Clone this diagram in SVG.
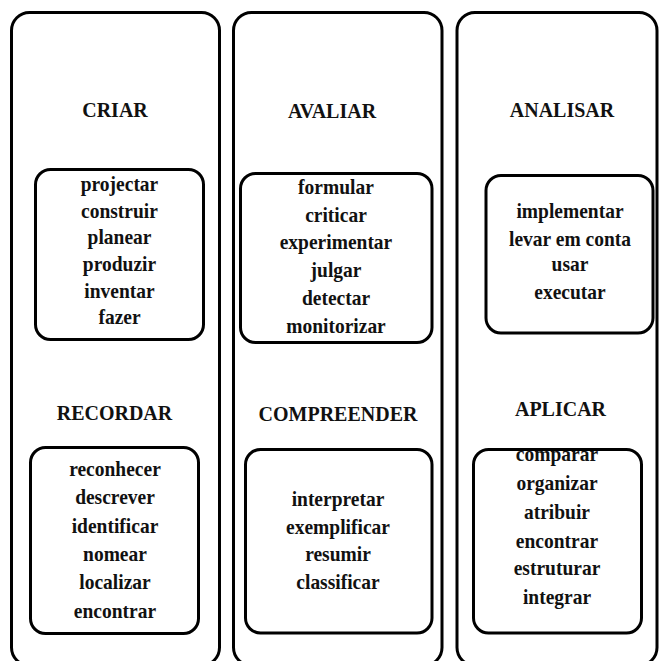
<svg xmlns="http://www.w3.org/2000/svg" width="659" height="661" viewBox="0 0 659 661">
<style>
.col{fill:none;stroke:#000;stroke-width:3}
.box{fill:none;stroke:#000;stroke-width:3}
.t,.w{font-family:"Liberation Serif","Times New Roman",serif;font-weight:bold;fill:#111;text-anchor:middle;transform-box:fill-box;transform-origin:center;transform:scaleY(1.1)}
.t{font-size:20px}
.w{font-size:19.5px}
</style>
<rect width="659" height="661" fill="#fff"/>
<g id="col-criar-recordar">
<rect class="col" x="11.5" y="12.5" width="208" height="653" rx="18"/>
</g>
<g id="col-avaliar-compreender">
<rect class="col" x="233.5" y="12.5" width="208.5" height="653" rx="18"/>
</g>
<g id="col-analisar-aplicar">
<rect class="col" x="457" y="12.5" width="200" height="653" rx="18"/>
</g>
<g id="criar">
<text class="t" x="115" y="116">CRIAR</text>
<rect class="box" x="35.5" y="169.5" width="168" height="170" rx="15"/>
<text class="w" x="119.5" y="190">projectar</text>
<text class="w" x="119.5" y="217">construir</text>
<text class="w" x="119.5" y="243">planear</text>
<text class="w" x="119.5" y="270">produzir</text>
<text class="w" x="119.5" y="297">inventar</text>
<text class="w" x="119.5" y="323">fazer</text>
</g>
<g id="avaliar">
<text class="t" x="332" y="117">AVALIAR</text>
<rect class="box" x="240.5" y="173.5" width="191.5" height="169" rx="15"/>
<text class="w" x="336" y="193">formular</text>
<text class="w" x="336" y="221">criticar</text>
<text class="w" x="336" y="248">experimentar</text>
<text class="w" x="336" y="276">julgar</text>
<text class="w" x="336" y="304">detectar</text>
<text class="w" x="336" y="332">monitorizar</text>
</g>
<g id="analisar">
<text class="t" x="562" y="116.5">ANALISAR</text>
<rect class="box" x="486" y="175.5" width="167" height="157.5" rx="15"/>
<text class="w" x="570" y="217">implementar</text>
<text class="w" x="570" y="245">levar em conta</text>
<text class="w" x="570" y="270">usar</text>
<text class="w" x="570" y="298">executar</text>
</g>
<g id="recordar">
<text class="t" x="114.5" y="419">RECORDAR</text>
<rect class="box" x="30.5" y="447.5" width="168" height="186" rx="15"/>
<text class="w" x="115" y="475">reconhecer</text>
<text class="w" x="115" y="503">descrever</text>
<text class="w" x="115" y="532">identificar</text>
<text class="w" x="115" y="560">nomear</text>
<text class="w" x="115" y="588">localizar</text>
<text class="w" x="115" y="617">encontrar</text>
</g>
<g id="compreender">
<text class="t" x="338" y="420.5">COMPREENDER</text>
<rect class="box" x="245.5" y="449.5" width="186.5" height="183.5" rx="15"/>
<text class="w" x="338" y="505">interpretar</text>
<text class="w" x="338" y="533">exemplificar</text>
<text class="w" x="338" y="560">resumir</text>
<text class="w" x="338" y="588">classificar</text>
</g>
<g id="aplicar">
<text class="t" x="560.5" y="415">APLICAR</text>
<text class="w" x="557" y="460">comparar</text>
<rect class="box" x="473.5" y="449.5" width="168" height="183.5" rx="15"/>
<text class="w" x="557" y="489">organizar</text>
<text class="w" x="557" y="518">atribuir</text>
<text class="w" x="557" y="547">encontrar</text>
<text class="w" x="557" y="574">estruturar</text>
<text class="w" x="557" y="603">integrar</text>
</g>
<g id="connectors"></g>
</svg>
